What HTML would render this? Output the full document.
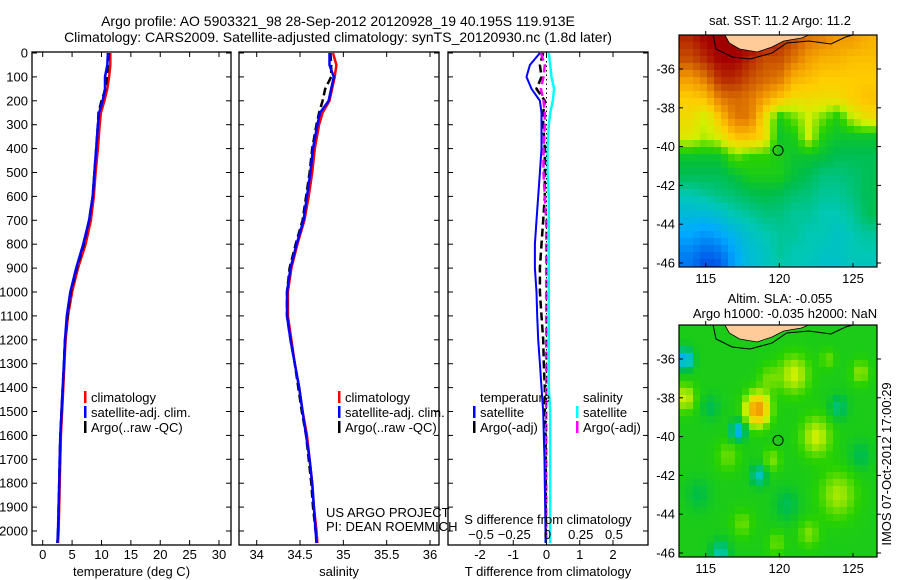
<!DOCTYPE html>
<html><head><meta charset="utf-8"><style>
html,body{margin:0;padding:0;background:#fff}
svg{display:block;font-family:"Liberation Sans",sans-serif}
</style></head><body>
<svg id="fig" width="900" height="580" viewBox="0 0 900 580">
<text x="338" y="26" font-size="14" text-anchor="middle">Argo profile: AO 5903321_98 28-Sep-2012 20120928_19 40.195S 119.913E</text>
<text x="338" y="42" font-size="14" text-anchor="middle">Climatology: CARS2009. Satellite-adjusted climatology: synTS_20120930.nc (1.8d later)</text>
<g id="g"></g>
</svg>
<script>
// ---- profile data ----
const depths      = [0,50,100,150,200,250,300,400,500,600,700,800,900,1000,1100,1200,1300,1400,1500,1600,1700,1800,1900,2000,2050];
const tempClim    = [11.5,11.5,11.3,11.0,10.5,9.9,9.7,9.4,9.0,8.7,8.2,7.3,6.0,5.0,4.3,3.9,3.7,3.5,3.3,3.1,3.0,2.9,2.8,2.7,2.6];
const tempSat     = [11.1,11.0,10.6,10.6,10.2,9.6,9.4,9.1,8.8,8.5,7.9,6.9,5.7,4.7,4.1,3.8,3.6,3.4,3.2,3.0,2.9,2.8,2.7,2.6,2.5];
const tempArgo    = [11.2,11.1,10.9,10.7,10.0,9.5,9.4,9.1,8.8,8.5,7.9,7.0,5.8,4.8,4.2,3.8,3.6,3.4,3.2,3.0,2.9,2.8,2.7,2.6,2.5];
const salClim     = [34.88,34.92,34.9,34.87,34.84,34.76,34.72,34.67,34.64,34.6,34.55,34.47,34.4,34.36,34.36,34.4,34.44,34.49,34.53,34.58,34.61,34.64,34.66,34.69,34.7];
const salSat      = [34.84,34.84,34.89,34.86,34.83,34.73,34.7,34.65,34.62,34.58,34.54,34.46,34.39,34.35,34.35,34.39,34.44,34.49,34.53,34.57,34.61,34.64,34.66,34.68,34.69];
const salArgo     = [34.85,34.86,34.86,34.79,34.76,34.72,34.69,34.64,34.61,34.57,34.53,34.45,34.38,34.35,34.35,34.39,34.44,34.48,34.52,34.57,34.6,34.63,34.65,34.68,34.69];
const dTsat       = [-0.2,-0.5,-0.6,-0.45,-0.2,-0.15,-0.15,-0.15,-0.2,-0.25,-0.3,-0.35,-0.35,-0.3,-0.28,-0.25,-0.2,-0.15,-0.1,-0.08,-0.06,-0.05,-0.04,-0.03,-0.03];
const dTargo      = [-0.1,-0.2,-0.15,-0.3,-0.05,-0.1,-0.1,-0.05,-0.05,-0.05,-0.1,-0.15,-0.2,-0.2,-0.15,-0.1,-0.08,-0.05,-0.05,-0.03,-0.02,-0.02,-0.02,-0.02,-0.02];
const dSsat       = [0.01,0.02,0.03,0.05,0.04,0.02,0.01,0.0,0.0,0.01,0.01,0.01,0.01,0.01,0.01,0.01,0.01,0.01,0.02,0.02,0.02,0.02,0.02,0.02,0.02];
const dSargo      = [-0.05,-0.02,-0.03,-0.05,-0.03,-0.02,-0.02,-0.03,-0.03,-0.02,-0.01,-0.01,-0.01,-0.01,-0.01,-0.01,-0.01,-0.01,-0.01,-0.01,-0.01,-0.01,-0.01,-0.01,-0.01];
const depthTicks  = [0,100,200,300,400,500,600,700,800,900,1000,1100,1200,1300,1400,1500,1600,1700,1800,1900,2000];
const tempTicks   = [0,5,10,15,20,25,30];
const salTicks    = [34,34.5,35,35.5,36];
const salTickLbl  = ["34","34.5","35","35.5","36"];
const dTTicks     = [-2,-1,0,1,2];
const dSTicks     = [-0.5,-0.25,0,0.25,0.5];
const dSTickLbl   = ["\u22120.5","\u22120.25","0","0.25","0.5"];
const latTicks    = [-36,-38,-40,-42,-44,-46];
const lonTicks    = [115,120,125];

const NS="http://www.w3.org/2000/svg";
const G=document.getElementById('g');
function mk(tag,attrs,parent,txt){const e=document.createElementNS(NS,tag);for(const k in attrs)e.setAttribute(k,attrs[k]);if(txt!==undefined)e.textContent=txt;(parent||G).appendChild(e);return e;}

const TOP=52,BOT=545;
const yD=d=>53+d*0.239;
function lin(d0,d1,p0,p1){return v=>p0+(v-d0)*(p1-p0)/(d1-d0);}

function stepPath(xs,xf){
  let s='';
  for(let i=0;i<depths.length;i++){
    const x=xf(xs[i]).toFixed(1),y=yD(depths[i]).toFixed(1);
    s+=(i?'L':'M')+x+' '+y;
  }
  return s;
}
function panel(name,x0,x1,xf,ticks,lbls,title,series){
  const grp=mk('g',{},G);
  
  
  const fr=mk('rect',{x:x0,y:TOP,width:x1-x0,height:BOT-TOP,fill:'none',stroke:'#000','stroke-width':1.3},grp);
  
  
  ticks.forEach((t,i)=>{
    const x=xf(t);
    mk('line',{x1:x,x2:x,y1:BOT,y2:BOT-5,stroke:'#000'},grp);
    mk('line',{x1:x,x2:x,y1:TOP,y2:TOP+5,stroke:'#000'},grp);
    const tl=mk('text',{x:x,y:BOT+14,'font-size':13,'text-anchor':'middle'},grp,lbls[i]);
    
    
  });
  depthTicks.forEach(d=>{
    const y=yD(d);
    mk('line',{x1:x0,x2:x0+5,y1:y,y2:y,stroke:'#000'},grp);
    mk('line',{x1:x1,x2:x1-5,y1:y,y2:y,stroke:'#000'},grp);
  });
  const tt=mk('text',{x:(x0+x1)/2,y:576,'font-size':13,'text-anchor':'middle'},grp,title);
  
  
  series.forEach(s=>{
    const p=mk('path',{d:stepPath(s.v,s.f||xf),fill:'none',stroke:s.c,'stroke-width':s.w||2.5,'stroke-dasharray':s.dash||'none'},grp);
    
    
  });
  return grp;
}
depthTicks.forEach(d=>{
  const t=mk('text',{x:28,y:yD(d)+4.5,'font-size':13,'text-anchor':'end'},G,String(d));
  
  
});

const xT=lin(0,30,42.7,219);
panel('temperature-panel',32,231,xT,tempTicks,tempTicks.map(String),'temperature (deg C)',[
  {v:tempClim,c:'#f00',n:'temp-climatology-line'},
  {v:tempArgo,c:'#000',n:'temp-argo-line',dash:'8 4'},
  {v:tempSat,c:'#00f',n:'temp-satellite-line'}]);
const xS=lin(34,36,256.7,430);
panel('salinity-panel',239,439,xS,salTicks,salTickLbl,'salinity',[
  {v:salClim,c:'#f00',n:'sal-climatology-line'},
  {v:salArgo,c:'#000',n:'sal-argo-line',dash:'8 4'},
  {v:salSat,c:'#00f',n:'sal-satellite-line'}]);
const xDT=lin(-2,2,480,613), xDS=lin(-0.5,0.5,481,614);
const p3=panel('difference-panel',448,648,xDT,dTTicks,dTTicks.map(String),'T difference from climatology',[
  {v:dSsat,f:xDS,c:'#0ff',n:'sal-diff-satellite-line'},
  {v:dTargo,c:'#000',n:'temp-diff-argo-line',dash:'8 4'},
  {v:dSargo,f:xDS,c:'#f0f',n:'sal-diff-argo-line',dash:'8 4'},
  {v:dTsat,c:'#00f',n:'temp-diff-satellite-line',w:2}]);
mk('line',{x1:xDT(0),x2:xDT(0),y1:TOP,y2:BOT,stroke:'#000','stroke-dasharray':'1.5 3'},p3);
dSTicks.forEach((t,i)=>{
  const tx=mk('text',{x:xDS(t),y:539,'font-size':13,'text-anchor':'middle'},p3,dSTickLbl[i]);
  
  
});
const sdt=mk('text',{x:548,y:524,'font-size':13,'text-anchor':'middle'},p3,'S difference from climatology');



function legend(name,x,y,items){
  const lg=mk('g',{},G);
  
  
  items.forEach((it,i)=>{
    const yy=y+i*15;
    if(it.c) mk('rect',{x:x,y:yy-11,width:2.5,height:12,fill:it.c},lg);
    const t=mk('text',{x:x+7,y:yy,'font-size':13},lg,it.t);
    
    
  });
}
const L3=[{t:'climatology',c:'#f00'},{t:'satellite-adj. clim.',c:'#00f'},{t:'Argo(..raw -QC)',c:'#000'}];
legend('temperature-legend',84,402,L3);
legend('salinity-legend',338,402,L3);
legend('temp-diff-legend',473,402,[{t:'temperature'},{t:'satellite',c:'#00f'},{t:'Argo(-adj)',c:'#000'}]);
legend('sal-diff-legend',576,402,[{t:'salinity'},{t:'satellite',c:'#0ff'},{t:'Argo(-adj)',c:'#f0f'}]);
const us=mk('text',{x:326,y:517,'font-size':13},G,'US ARGO PROJECT');

const pi=mk('text',{x:326,y:531,'font-size':13},G,'PI: DEAN ROEMMICH');


// ---- maps ----
const cmapStops=[[0,[0,0,140]],[0.15,[0,80,230]],[0.28,[0,170,255]],[0.38,[0,200,180]],[0.46,[0,190,70]],[0.52,[40,210,0]],[0.6,[210,240,0]],[0.68,[255,205,0]],[0.76,[240,150,0]],[0.85,[200,80,0]],[0.95,[165,0,0]],[1,[150,0,0]]];
function cmap(v){v=Math.max(0,Math.min(1,v));
  for(let i=1;i<cmapStops.length;i++){const a=cmapStops[i-1],b=cmapStops[i];
    if(v<=b[0]){const f=(v-a[0])/(b[0]-a[0]);const c=a[1].map((q,k)=>Math.round(q+(b[1][k]-q)*f));return `rgb(${c[0]},${c[1]},${c[2]})`;}}
  return 'rgb(150,0,0)';}
const sstGrid=[
[0.9,0.95,0.97,0.97,0.97,0.95,0.9,0.85,0.8,0.78,0.75,0.75,0.72],
[0.85,0.9,0.95,0.95,0.9,0.85,0.85,0.8,0.75,0.72,0.72,0.7,0.7],
[0.75,0.8,0.9,0.9,0.85,0.82,0.8,0.72,0.7,0.68,0.68,0.68,0.68],
[0.68,0.7,0.8,0.82,0.8,0.75,0.7,0.65,0.65,0.65,0.65,0.68,0.7],
[0.65,0.6,0.7,0.8,0.8,0.65,0.5,0.55,0.6,0.55,0.5,0.6,0.65],
[0.62,0.58,0.62,0.7,0.7,0.65,0.48,0.5,0.6,0.5,0.48,0.48,0.48],
[0.48,0.48,0.48,0.55,0.52,0.52,0.5,0.48,0.48,0.47,0.45,0.45,0.45],
[0.45,0.45,0.45,0.47,0.5,0.5,0.5,0.47,0.45,0.42,0.42,0.43,0.45],
[0.38,0.4,0.42,0.43,0.45,0.46,0.45,0.43,0.42,0.4,0.4,0.42,0.45],
[0.33,0.33,0.35,0.38,0.4,0.42,0.42,0.4,0.4,0.38,0.38,0.4,0.45],
[0.28,0.25,0.28,0.32,0.36,0.38,0.4,0.4,0.38,0.38,0.36,0.38,0.4],
[0.22,0.18,0.2,0.28,0.34,0.36,0.4,0.38,0.38,0.36,0.36,0.38,0.38],
[0.2,0.12,0.15,0.28,0.34,0.36,0.38,0.38,0.36,0.35,0.35,0.36,0.36]];
const slaSpots=[[113.6,-36,-0.22,0.5],[113.6,-38,0.1,0.7],[118.5,-38.6,0.27,0.8],[117.2,-39.7,-0.22,0.45],
 [118.6,-42,-0.13,0.5],[121,-36.8,0.1,1.0],[122.5,-40,0.1,1.0],[124,-43,0.08,1.2],[116,-46,-0.12,0.6],[119.5,-41.2,0.06,0.6],[125.5,-36.7,0.07,0.6],[124,-38.5,-0.08,0.6],[122,-45,0.06,0.7],
 [115.3,-38.5,-0.05,0.6],[119.3,-37,0.05,0.7],[116.5,-41,0.05,0.8],[120.5,-43.5,-0.05,0.8],[117.5,-44.5,0.05,0.7],[125.5,-41,-0.05,0.7],[114.5,-43,-0.04,0.8],[123.3,-36,0.05,0.5],[119.8,-45.5,0.05,0.6]];
function sst(lon,lat){
  let c=(lon-114),r=(-34.5-lat);c=Math.max(0,Math.min(12,c));r=Math.max(0,Math.min(12,r));
  const c0=Math.floor(c),r0=Math.floor(r),c1=Math.min(12,c0+1),r1=Math.min(12,r0+1),fc=c-c0,fr=r-r0;
  return (sstGrid[r0][c0]*(1-fc)+sstGrid[r0][c1]*fc)*(1-fr)+(sstGrid[r1][c0]*(1-fc)+sstGrid[r1][c1]*fc)*fr;}
function sla(lon,lat){let v=0.5;slaSpots.forEach(s=>{const d=((lon-s[0])**2+(lat-s[1])**2)/(s[3]*s[3]);v+=s[2]*Math.exp(-d);});return v;}
function map(name,y0,fn,t1,t2){
  const x0=679,x1=877,y1=y0+232;
  const lonF=lin(115,125,705.7,853),latF=lin(-36,-46,y0+34,y0+228);
  const grp=mk('g',{},G);
  
  
  const cw=7,ch=7;
  for(let y=y0;y<y1;y+=ch){for(let x=x0;x<x1;x+=cw){
    const lon=115+(x+cw/2-705.7)*10/(853-705.7),lat=-36-(y+ch/2-(y0+34))*10/194;
    mk('rect',{x:x,y:y,width:Math.min(cw,x1-x)+0.3,height:Math.min(ch,y1-y)+0.3,fill:cmap(fn(lon,lat))},grp);
  }}
  const land=mk('path',{d:`M${lonF(116.3)} ${y0} L${lonF(116.6)} ${y0+8} L${lonF(117.3)} ${y0+14} L${lonF(118.5)} ${y0+17} L${lonF(119.5)} ${y0+12} L${lonF(120.3)} ${y0+6} L${lonF(121.5)} ${y0+3} L${lonF(122)} ${y0} Z`,fill:'#ffcc99'},grp);
  
  mk('path',{d:`M${lonF(115.5)} ${y0} L${lonF(115.7)} ${y0+14} L${lonF(116.8)} ${y0+22} L${lonF(118)} ${y0+24} L${lonF(119.5)} ${y0+18} L${lonF(120.5)} ${y0+8} L${lonF(122)} ${y0+6} L${lonF(123.5)} ${y0+9} L${lonF(124.5)} ${y0+2} L${lonF(125)} ${y0}`,fill:'none',stroke:'#000','stroke-width':1},grp);
  mk('path',{d:`M${lonF(116.3)} ${y0} L${lonF(116.6)} ${y0+8} L${lonF(117.3)} ${y0+14} L${lonF(118.5)} ${y0+17} L${lonF(119.5)} ${y0+12} L${lonF(120.3)} ${y0+6} L${lonF(121.5)} ${y0+3} L${lonF(122)} ${y0}`,fill:'none',stroke:'#000','stroke-width':0.8},grp);
  const mk1=mk('circle',{cx:lonF(119.913),cy:latF(-40.195),r:5,fill:'none',stroke:'#000','stroke-width':1},grp);
  
  mk('rect',{x:x0,y:y0,width:x1-x0,height:y1-y0,fill:'none',stroke:'#000','stroke-width':1.2},grp);
  latTicks.forEach(l=>{const y=latF(l);mk('line',{x1:x0,x2:x0+4,y1:y,y2:y,stroke:'#000'},grp);mk('line',{x1:x1,x2:x1+4,y1:y,y2:y,stroke:'#000'},grp);
    const t=mk('text',{x:x0-4,y:y+4.5,'font-size':13,'text-anchor':'end'},grp,String(l));
    });
  lonTicks.forEach(l=>{const x=lonF(l);mk('line',{x1:x,x2:x,y1:y1,y2:y1-4,stroke:'#000'},grp);mk('line',{x1:x,x2:x,y1:y0,y2:y0-4,stroke:'#000'},grp);
    const t=mk('text',{x:x,y:y1+16,'font-size':13,'text-anchor':'middle'},grp,String(l));
    });
  const a=mk('text',{x:780,y:t2?y0-22:y0-10,'font-size':13,'text-anchor':'middle'},grp,t1);
  
  if(t2){const b=mk('text',{x:785,y:y0-7,'font-size':13,'text-anchor':'middle'},grp,t2);
    }
}
map('sst-map',35,sst,'sat. SST: 11.2 Argo: 11.2');
map('sla-map',325,sla,'Altim. SLA: -0.055','Argo h1000: -0.035 h2000: NaN');
const ts=mk('text',{x:0,y:0,'font-size':13,'text-anchor':'middle',transform:'translate(891,464) rotate(-90)'},G,'IMOS 07-Oct-2012 17:00:29');

</script>
</body></html>
